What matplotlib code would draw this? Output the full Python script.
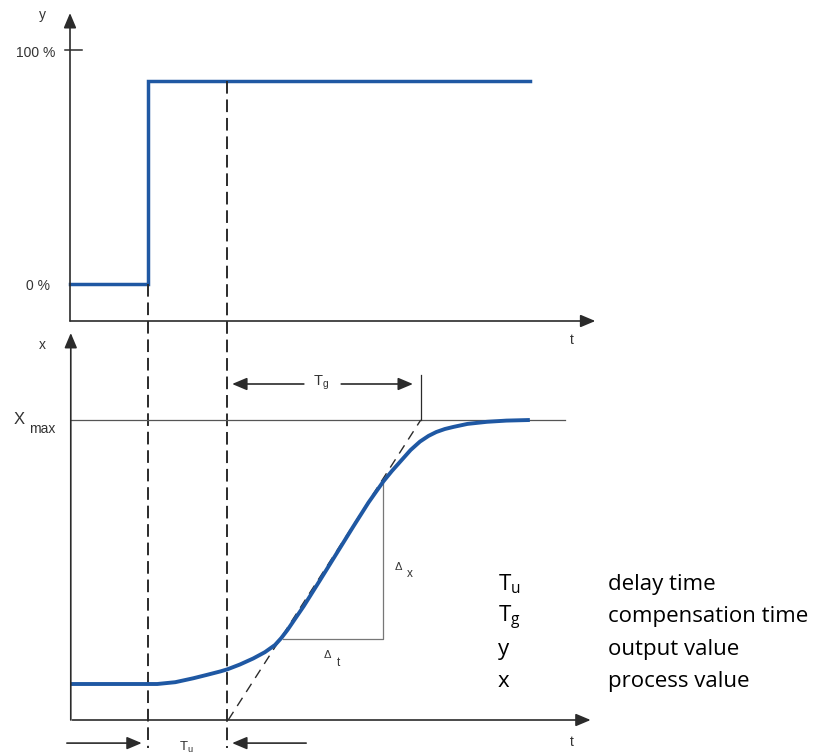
import matplotlib
matplotlib.use("Agg")
import matplotlib.pyplot as plt

# step of the output value y (top panel), t in time units, y in %
y_step_t = [0, 10, 10, 59]
y_step_val = [0, 0, 86.8, 86.8]

# process value x response (bottom panel), 100 = X max
x_resp_t = [0, 11.2, 13.5, 15.8, 17.5, 19.3, 20.2, 21.8, 23.5, 25.0, 26.3, 27.1,
            27.9, 30.0, 32.1, 34.2, 36.3, 38.3, 39.3, 40.2, 41.3, 42.5, 43.7,
            44.9, 46.0, 47.0, 48.1, 49.2, 51.0, 53.5, 56.0, 59.0]
x_resp_val = [12, 12, 12.6, 13.9, 15.0, 16.2, 16.9, 18.5, 20.5, 22.6, 25.0, 27.3,
              30.0, 38.0, 46.7, 55.5, 64.3, 72.5, 76.2, 79.5, 83.0, 86.5, 90.0,
              92.8, 94.7, 96.0, 97.0, 97.7, 98.7, 99.4, 99.8, 100]

t_step = 10       # step of y
tu_end = 20.3     # tangent crosses t axis
tg_end = 45.0     # tangent reaches X max
x_max = 100

# slope triangle
tri_t = [27.3, 40.2, 40.2]
tri_val = [27.0, 27.0, 79.0]

legend_syms = [r"$\mathrm{T_u}$", r"$\mathrm{T_g}$", "y", "x"]
legend_txt = ["delay time", "compensation time", "output value", "process value"]

plt.rcParams["mathtext.fontset"] = "custom"
plt.rcParams["mathtext.rm"] = "Open Sans"

W, H = 823, 755
fig = plt.figure(figsize=(W / 100, H / 100), dpi=100)

BLUE = "#1f58a3"
AX = "#2b2b2b"
TXT = "#333333"
small = dict(family="Liberation Sans", fontsize=10, color=TXT)


def arrow(ax, x0, y0, x1, y1, lw=1.2):
    ax.annotate("", xy=(x1, y1), xytext=(x0, y0), annotation_clip=False,
                arrowprops=dict(arrowstyle="-|>,head_length=0.9,head_width=0.38",
                                mutation_scale=10, lw=lw, color=AX,
                                shrinkA=0, shrinkB=0))


# top panel: y
ax_y = fig.add_axes([70 / W, 1 - 321 / H, 530 / W, 311 / H])
ax_y.set_xlim(0, 68)
ax_y.set_ylim(-15.8, 117.1)
ax_y.axis("off")

arrow(ax_y, 0, -15.8, 0, 115.8)
arrow(ax_y, 0, -15.8, 67.4, -15.8)
ax_y.plot([-0.65, 1.55], [100, 100], color=AX, lw=1.1, clip_on=False)
ax_y.plot(y_step_t, y_step_val, color=BLUE, lw=2.5, solid_joinstyle="miter",
          clip_on=False)
ax_y.text(-3.6, 115, "y", ha="center", va="center", **small)
ax_y.text(-1.9, 98.8, "100 %", ha="right", va="center", **small)
ax_y.text(-2.6, -0.8, "0 %", ha="right", va="center", **small)
ax_y.text(64.4, -24, "t", ha="center", va="center", **small)

# bottom panel: x
ax_x = fig.add_axes([70 / W, 1 - 720 / H, 530 / W, 390 / H])
ax_x.set_xlim(0, 68)
ax_x.set_ylim(0, 130)
ax_x.axis("off")

arrow(ax_x, 0.1, 0, 0.1, 129)
arrow(ax_x, 0.3, 0, 66.8, 0)
ax_x.plot([-0.6, 63.5], [x_max, x_max], color="#555555", lw=0.9)

# tangent through the inflection point
ax_x.plot([tu_end, tg_end], [0, x_max], color=AX, lw=1.0,
          linestyle=(0, (7, 5)), clip_on=False)
ax_x.plot(tri_t, tri_val, color="#777777", lw=0.9)
ax_x.plot(x_resp_t, x_resp_val, color=BLUE, lw=2.8, solid_capstyle="butt",
          solid_joinstyle="round", clip_on=False)

# Tg marker
ax_x.plot([tg_end, tg_end], [x_max, 115], color=AX, lw=0.9)
arrow(ax_x, 30.0, 112, 20.8, 112)
arrow(ax_x, 34.8, 112, 44.0, 112)
ax_x.text(32.2, 112.5, r"$\mathregular{T_g}$", ha="center", va="center",
          family="Liberation Sans", fontsize=10.5, color=TXT)

# Tu marker below the t axis
arrow(ax_x, -0.4, -7.7, 9.2, -7.7)
arrow(ax_x, 30.3, -7.7, 20.8, -7.7)
ax_x.text(14.9, -9.0, r"$\mathregular{T_u}$", ha="center", va="center",
          family="Liberation Sans", fontsize=9.5, color=TXT)

ax_x.text(-3.5, 125, "x", ha="center", va="center", **small)
ax_x.text(-6.5, 100.3, "X", ha="center", va="center",
          family="Liberation Sans", fontsize=12, color=TXT)
ax_x.text(-3.6, 97.0, "max", ha="center", va="center", **small)
ax_x.text(64.4, -7.3, "t", ha="center", va="center", **small)

ax_x.text(33.0, 21.7, "Δ", ha="center", va="center",
          family="Liberation Sans", fontsize=8, color=TXT)
ax_x.text(34.4, 19.0, "t", ha="center", va="center",
          family="Liberation Sans", fontsize=8.5, color=TXT)
ax_x.text(42.1, 51.0, "Δ", ha="center", va="center",
          family="Liberation Sans", fontsize=8, color=TXT)
ax_x.text(43.6, 48.8, "x", ha="center", va="center",
          family="Liberation Sans", fontsize=8.5, color=TXT)

# dashed guide lines across both panels (drawn in the top panel, running down)
for t0, top in [(t_step, 0), (tu_end - 0.1, 86.8)]:
    ax_y.plot([t0, t0], [top, -15.8 - (748 - 321) / 2.34], color=AX, lw=1.4,
              linestyle=(0, (6.5, 3)), clip_on=False)

# legend text block
base_y = [590, 622, 655, 687]
for sym, txt, by in zip(legend_syms, legend_txt, base_y):
    fig.text(498 / W, 1 - by / H, sym, ha="left", va="baseline",
             family="Open Sans", fontsize=16, color="black")
    fig.text(608 / W, 1 - by / H, txt, ha="left", va="baseline",
             family="Open Sans", fontsize=16, color="black")

fig.savefig("out.png", dpi=100, facecolor="white")
